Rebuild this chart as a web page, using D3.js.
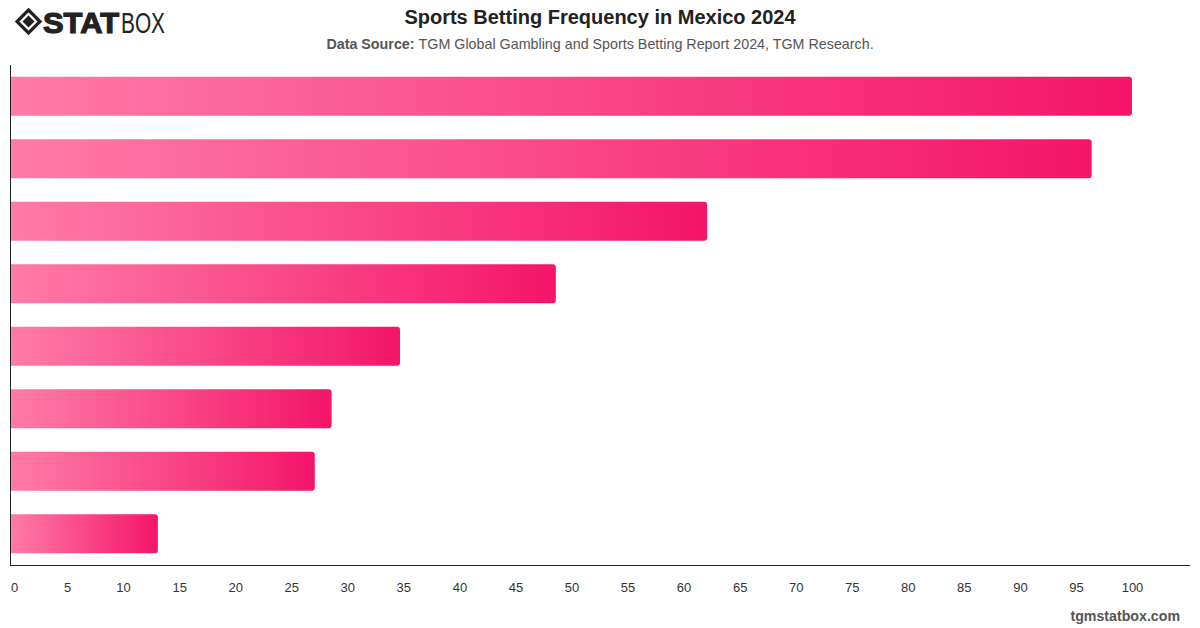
<!DOCTYPE html>
<html><head><meta charset="utf-8">
<script src="https://cdn.jsdelivr.net/npm/d3@7"></script>
<style>body{margin:0;background:#fff}svg{display:block;font-family:"Liberation Sans",Arial,sans-serif}</style>
</head><body><svg id="c" width="1200" height="628"></svg>
<script>
const categories = ["1","2","3","4","5","6","7","8"];
const values = [100, 96.4, 62.1, 48.6, 34.7, 28.6, 27.1, 13.1];
const tickValues = [0,5,10,15,20,25,30,35,40,45,50,55,60,65,70,75,80,85,90,95,100];

const svg = d3.select("#c");
const m = {left: 11, right: 1190, top: 65, bottom: 565};
const x = d3.scaleLinear().domain([0, 100]).range([m.left, 1132]);
const y = d3.scaleBand().domain(categories).range([m.top, m.bottom]).paddingInner(0.375).paddingOuter(0.1875);

const defs = svg.append("defs");
values.forEach((v, i) => {
  const g = defs.append("linearGradient").attr("id", "g" + i).attr("x1", "0").attr("x2", "1").attr("y1", "0").attr("y2", "0");
  g.append("stop").attr("offset", "0").attr("stop-color", "#ff7ba8");
  g.append("stop").attr("offset", "1").attr("stop-color", "#f41568");
});

const r = 3;
svg.append("g").selectAll("path").data(values).join("path")
  .attr("d", (v, i) => {
    const x0 = x(0), x1 = x(v), y0 = y(categories[i]), h = y.bandwidth();
    return `M${x0},${y0}H${x1 - r}Q${x1},${y0} ${x1},${y0 + r}V${y0 + h - r}Q${x1},${y0 + h} ${x1 - r},${y0 + h}H${x0}Z`;
  })
  .attr("fill", (v, i) => `url(#g${i})`);

svg.append("line").attr("x1", m.left - 0.5).attr("x2", m.left - 0.5).attr("y1", m.top).attr("y2", m.bottom + 0.5).attr("stroke", "#222").attr("stroke-width", 1);
svg.append("line").attr("x1", m.left - 1).attr("x2", m.right).attr("y1", m.bottom + 0.5).attr("y2", m.bottom + 0.5).attr("stroke", "#222").attr("stroke-width", 1);

const xAxis = d3.axisBottom(x).tickValues(tickValues).tickSize(0).tickPadding(0);
const ax = svg.append("g").attr("transform", `translate(0,${m.bottom + 18})`).call(xAxis);
ax.select(".domain").remove();
ax.selectAll("text").attr("font-size", 13).attr("fill", "#333").attr("dy", "0.71em")
  .attr("font-family", "'Liberation Sans',Arial,sans-serif")
  .attr("dx", d => d === 0 ? 3 : 0);

svg.append("text").attr("x", 600).attr("y", 24).attr("text-anchor", "middle")
  .attr("font-size", 20).attr("font-weight", 700).attr("fill", "#222")
  .text("Sports Betting Frequency in Mexico 2024");
const sub = svg.append("text").attr("x", 600).attr("y", 49).attr("text-anchor", "middle")
  .attr("font-size", 14.3).attr("fill", "#555");
sub.append("tspan").attr("font-weight", 700).text("Data Source: ");
sub.append("tspan").text("TGM Global Gambling and Sports Betting Report 2024, TGM Research.");

svg.append("text").attr("x", 1180).attr("y", 621).attr("text-anchor", "end")
  .attr("font-size", 14.2).attr("font-weight", 700).attr("fill", "#555").text("tgmstatbox.com");

const lg = svg.append("g").attr("transform", "translate(28.5,21.5)");
lg.append("path").attr("d", "M0,-11.5L11.5,0L0,11.5L-11.5,0Z").attr("fill", "none").attr("stroke", "#222").attr("stroke-width", 3.2).attr("stroke-linejoin", "miter");
lg.append("path").attr("d", "M0,-6L6,0L0,6L-6,0Z").attr("fill", "#222");
svg.append("text").attr("x", 43).attr("y", 33).attr("font-size", 30).attr("fill", "#222")
  .attr("font-weight", 900).attr("stroke", "#222").attr("stroke-width", 1.2)
  .attr("textLength", 76).attr("lengthAdjust", "spacingAndGlyphs").text("STAT");
svg.append("text").attr("x", 121).attr("y", 33).attr("font-size", 30).attr("fill", "#222")
  .attr("font-weight", 400)
  .attr("textLength", 44).attr("lengthAdjust", "spacingAndGlyphs").text("BOX");
</script></body></html>
